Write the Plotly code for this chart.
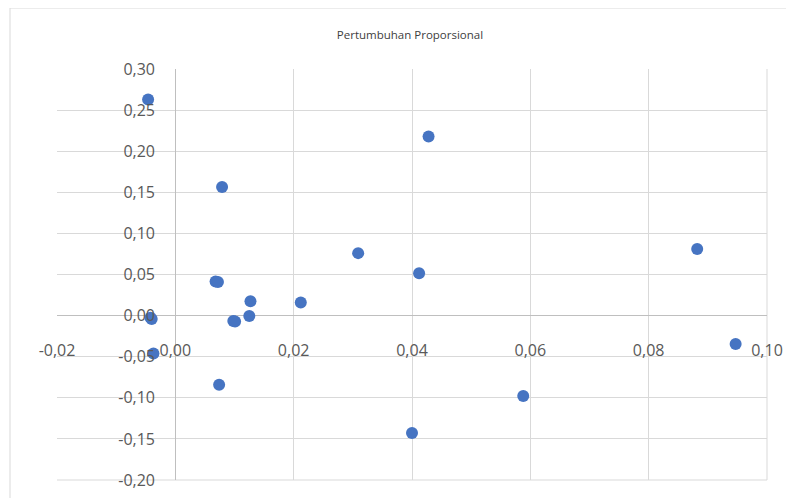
import plotly.graph_objects as go

# Data
x_vals = [-0.0046, -0.0042, -0.0040, -0.0037, 0.0079, 0.0068, 0.0072,
          0.0127, 0.0125, 0.0098, 0.0101, 0.0074, 0.0428, 0.0309,
          0.0412, 0.0212, 0.0400, 0.0882, 0.0947, 0.0588]
y_vals = [0.263, -0.0025, -0.0040, -0.046, 0.1565, 0.0415, 0.0408,
          0.0175, -0.0004, -0.0065, -0.0072, -0.0841, 0.2179, 0.0760,
          0.0516, 0.0159, -0.1427, 0.0809, -0.0345, -0.0979]

x_ticks = [-0.02, 0.00, 0.02, 0.04, 0.06, 0.08, 0.10]
x_labels = ["-0,02", "0,00", "0,02", "0,04", "0,06", "0,08", "0,10"]
y_ticks = [-0.20, -0.15, -0.10, -0.05, 0.00, 0.05, 0.10, 0.15, 0.20, 0.25, 0.30]
y_labels = ["-0,20", "-0,15", "-0,10", "-0,05", "0,00", "0,05", "0,10",
            "0,15", "0,20", "0,25", "0,30"]

# The page has an 8px body margin; work in screen pixels and convert.
OFF = 8
W, H = 786, 490
L, T = 57 - OFF, 69 - OFF
R = W - (767 - OFF)
B = H - (480 - OFF)
pw, ph = W - L - R, H - T - B

def sx(px):
    return (px - OFF - L) / pw

def sy(py):
    return 1 - (py - OFF - T) / ph

fig = go.Figure()
fig.add_trace(go.Scatter(
    x=x_vals, y=y_vals, mode="markers",
    marker=dict(size=12, color="#4674C2"),
    hoverinfo="x+y",
))

tick_font = dict(family="Open Sans, sans-serif", size=16, color="#595959")

fig.update_layout(
    template="none",
    width=W, height=H,
    margin=dict(l=L, r=R, t=T, b=B, autoexpand=False),
    paper_bgcolor="white", plot_bgcolor="white",
    showlegend=False,
    title=dict(text="Pertumbuhan Proporsional",
               x=(410 - OFF) / W, xanchor="center",
               y=1 - (35 - OFF) / H, yanchor="middle",
               font=dict(family="Open Sans, sans-serif", size=11.5, color="#404040")),
    xaxis=dict(
        range=[-0.02, 0.10], tickvals=x_ticks, ticktext=x_labels,
        showgrid=True, gridcolor="#d9d9d9", gridwidth=1,
        zeroline=True, zerolinecolor="#bfbfbf", zerolinewidth=1,
        showline=False, ticks="", tickfont=tick_font,
        anchor="free", position=sy(339), automargin=False,
        fixedrange=True,
    ),
    yaxis=dict(
        range=[-0.20, 0.30], tickvals=y_ticks, ticktext=y_labels,
        showgrid=True, gridcolor="#d9d9d9", gridwidth=1,
        zeroline=True, zerolinecolor="#bfbfbf", zerolinewidth=1,
        showline=False, ticks="", tickfont=tick_font,
        anchor="free", position=sx(155), automargin=False,
        fixedrange=True,
    ),
    shapes=[
        dict(type="rect", xref="paper", yref="paper",
             x0=sx(10), x1=sx(805),
             y0=sy(510), y1=sy(8),
             line=dict(color="#d9d9d9", width=1), fillcolor="rgba(0,0,0,0)",
             layer="below"),
        dict(type="line", xref="paper", yref="paper",
             x0=1, x1=1, y0=0, y1=1,
             line=dict(color="#d9d9d9", width=1), layer="below"),
        dict(type="line", xref="paper", yref="paper",
             x0=0, x1=1, y0=0, y1=0,
             line=dict(color="#d9d9d9", width=1), layer="below"),
    ],
)

fig.write_html("out.html")
